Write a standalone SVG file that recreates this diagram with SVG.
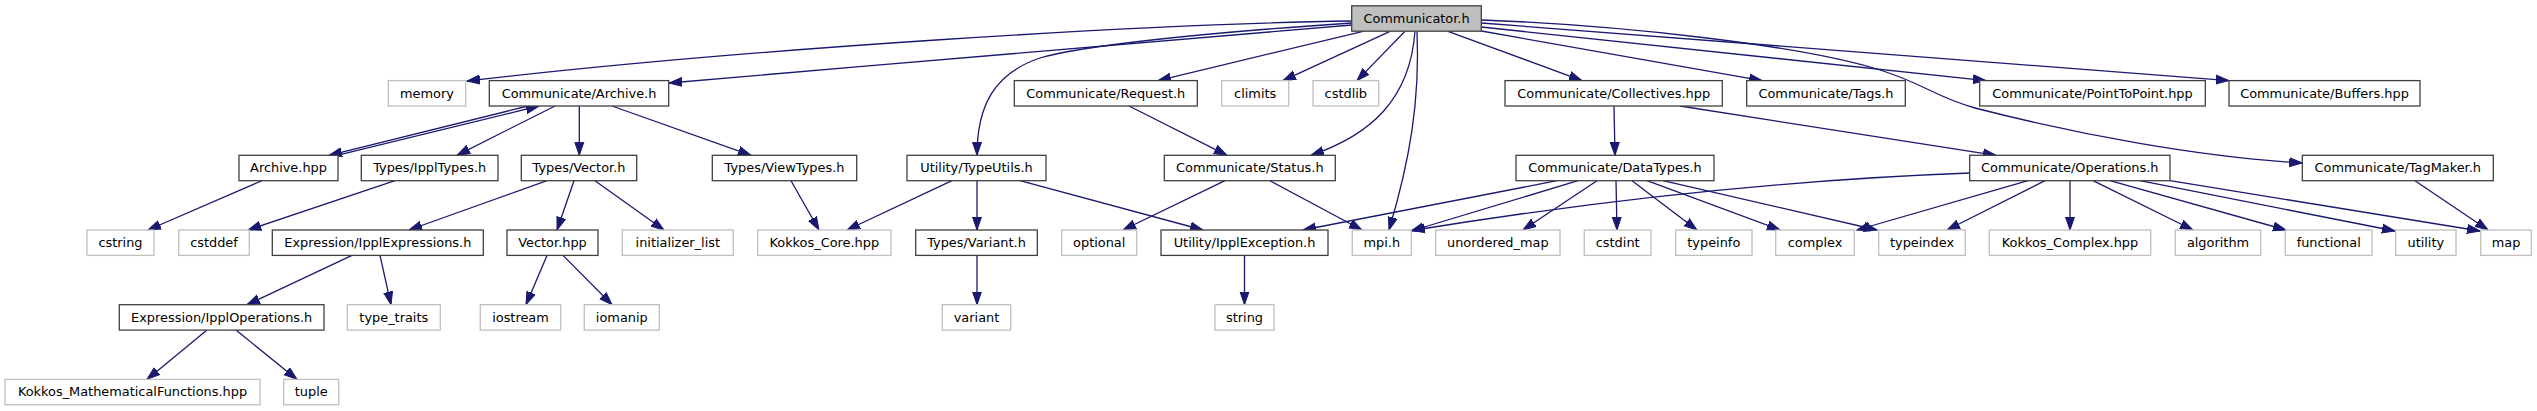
<svg xmlns="http://www.w3.org/2000/svg" width="2537" height="411" viewBox="0 0 2537 411">
<style>
rect{fill:#fff;stroke-width:1.3}
.n rect{stroke:#404040}
.r rect{fill:#bfbfbf;stroke:#404040}
.x rect{stroke:#bfbfbf}
text{font-family:"DejaVu Sans","Liberation Sans",sans-serif;font-size:12.9px;text-anchor:middle;fill:#000}
.e path{fill:none;stroke:#191970;stroke-width:1.3;marker-end:url(#a)}
</style>
<defs>
<marker id="a" markerUnits="userSpaceOnUse" markerWidth="14" markerHeight="11" refX="13" refY="5" orient="auto" viewBox="0 0 14 10">
<path d="M0,0.5 L13,5 L0,9.5 Z" fill="#191970" stroke="#191970" stroke-width="1"/>
</marker>
</defs>
<rect x="0" y="0" width="2537" height="411" style="fill:#fff;stroke:none"/>
<g id="connectors" class="e">
<path d="M1352,21 C1150,24 750,48 467,81"/>
<path d="M1352,25 C1150,42 900,63 669,83"/>
<path d="M1363,31.3 L1158,80.6"/>
<path d="M1390,31.3 L1283,80.6"/>
<path d="M1405,31.3 L1357,80.6"/>
<path d="M1352,23 C1200,33 1080,46 1040,58 C995,73 977,105 977,155.3"/>
<path d="M1415,31.3 C1410,100 1370,135 1311,155.3"/>
<path d="M1417,31.3 C1420,100 1410,160 1389,230"/>
<path d="M1448,31.3 L1582,80.6"/>
<path d="M1481.3,31 L1762,80.6"/>
<path d="M1481.3,27 L1986,80.6"/>
<path d="M1481.3,23 L2229,80.6"/>
<path d="M1481.3,20 C1620,25 1800,45 1880,70 C1925,84 1935,97 1975,108 C2080,135 2200,157 2302.3,163"/>
<path d="M1614,106 L1615,155.3"/>
<path d="M1680,106 L1996,155.3"/>
<path d="M1129,106 L1227,155.3"/>
<path d="M528,106 L329,155.3"/>
<path d="M337,155.3 L539,106"/>
<path d="M555,106 L457,155.3"/>
<path d="M579.3,106 L579.3,155.3"/>
<path d="M612,106 L751,155.3"/>
<path d="M262,180.7 L148,230"/>
<path d="M395,180.7 L248,230"/>
<path d="M547,180.7 L409,230"/>
<path d="M574,180.7 L557,230"/>
<path d="M595,180.7 L664,230"/>
<path d="M791,180.7 L819,230"/>
<path d="M952,180.7 L847,230"/>
<path d="M977,180.7 L977,230"/>
<path d="M1020,180.7 L1203,230"/>
<path d="M1225,180.7 L1123,230"/>
<path d="M1270,180.7 L1362,230"/>
<path d="M1557,180.7 L1303,230"/>
<path d="M1578,180.7 L1411,231"/>
<path d="M1970,173 C1780,180 1600,200 1412,230.5"/>
<path d="M1597,180.7 L1523,230"/>
<path d="M1616,180.7 L1617,230"/>
<path d="M1632,180.7 L1697,230"/>
<path d="M1647,180.7 L1780,230"/>
<path d="M1663,180.7 L1877,230"/>
<path d="M2028,180.7 L1857,230"/>
<path d="M2045,180.7 L1947,230"/>
<path d="M2070,180.7 L2070,230"/>
<path d="M2093,180.7 L2193,230"/>
<path d="M2110,180.7 L2286,230"/>
<path d="M2140,180.7 L2395,231"/>
<path d="M2170,180.7 L2480,231"/>
<path d="M2415,180.7 L2488,230"/>
<path d="M352,255.4 L247,304.7"/>
<path d="M380,255.4 L391,304.7"/>
<path d="M547,255.4 L526,304.7"/>
<path d="M563,255.4 L612,304.7"/>
<path d="M977,255.4 L977,304.7"/>
<path d="M1244.5,255.4 L1244.5,304.7"/>
<path d="M207,330.1 L147,379.4"/>
<path d="M236,330.1 L297,379.4"/>
</g>
<g id="node1" class="r"><rect x="1351.7" y="5.8" width="129.6" height="25.4"/><text x="1416.5" y="22.8">Communicator.h</text></g>
<g id="node2" class="x"><rect x="388.3" y="80.6" width="77.4" height="25.4"/><text x="427" y="97.6">memory</text></g>
<g id="node3" class="n"><rect x="489.3" y="80.6" width="179.4" height="25.4"/><text x="579" y="97.6">Communicate/Archive.h</text></g>
<g id="node4" class="n"><rect x="1014.3" y="80.6" width="183" height="25.4"/><text x="1105.8" y="97.6">Communicate/Request.h</text></g>
<g id="node5" class="x"><rect x="1221.7" y="80.6" width="67" height="25.4"/><text x="1255.2" y="97.6">climits</text></g>
<g id="node6" class="x"><rect x="1313" y="80.6" width="65.7" height="25.4"/><text x="1345.8" y="97.6">cstdlib</text></g>
<g id="node7" class="n"><rect x="1505" y="80.6" width="217.3" height="25.4"/><text x="1613.7" y="97.6">Communicate/Collectives.hpp</text></g>
<g id="node8" class="n"><rect x="1746.7" y="80.6" width="158.6" height="25.4"/><text x="1826" y="97.6">Communicate/Tags.h</text></g>
<g id="node9" class="n"><rect x="1979.7" y="80.6" width="225.6" height="25.4"/><text x="2092.5" y="97.6">Communicate/PointToPoint.hpp</text></g>
<g id="node10" class="n"><rect x="2229" y="80.6" width="191" height="25.4"/><text x="2324.5" y="97.6">Communicate/Buffers.hpp</text></g>
<g id="node11" class="n"><rect x="239" y="155.3" width="99" height="25.4"/><text x="288.5" y="172.3">Archive.hpp</text></g>
<g id="node12" class="n"><rect x="361.3" y="155.3" width="136.7" height="25.4"/><text x="429.7" y="172.3">Types/IpplTypes.h</text></g>
<g id="node13" class="n"><rect x="521.3" y="155.3" width="115.4" height="25.4"/><text x="579" y="172.3">Types/Vector.h</text></g>
<g id="node14" class="n"><rect x="712.3" y="155.3" width="144.4" height="25.4"/><text x="784.5" y="172.3">Types/ViewTypes.h</text></g>
<g id="node15" class="n"><rect x="907" y="155.3" width="139" height="25.4"/><text x="976.5" y="172.3">Utility/TypeUtils.h</text></g>
<g id="node16" class="n"><rect x="1164.3" y="155.3" width="171" height="25.4"/><text x="1249.8" y="172.3">Communicate/Status.h</text></g>
<g id="node17" class="n"><rect x="1516" y="155.3" width="198" height="25.4"/><text x="1615" y="172.3">Communicate/DataTypes.h</text></g>
<g id="node18" class="n"><rect x="1969.7" y="155.3" width="200.3" height="25.4"/><text x="2069.8" y="172.3">Communicate/Operations.h</text></g>
<g id="node19" class="n"><rect x="2302.3" y="155.3" width="191" height="25.4"/><text x="2397.8" y="172.3">Communicate/TagMaker.h</text></g>
<g id="node20" class="x"><rect x="87" y="230" width="67" height="25.4"/><text x="120.5" y="247">cstring</text></g>
<g id="node21" class="x"><rect x="178.7" y="230" width="70.6" height="25.4"/><text x="214" y="247">cstddef</text></g>
<g id="node22" class="n"><rect x="272.3" y="230" width="211" height="25.4"/><text x="377.8" y="247">Expression/IpplExpressions.h</text></g>
<g id="node23" class="n"><rect x="507" y="230" width="91" height="25.4"/><text x="552.5" y="247">Vector.hpp</text></g>
<g id="node24" class="x"><rect x="622.3" y="230" width="111" height="25.4"/><text x="677.8" y="247">initializer_list</text></g>
<g id="node25" class="x"><rect x="757.7" y="230" width="133.3" height="25.4"/><text x="824.3" y="247">Kokkos_Core.hpp</text></g>
<g id="node26" class="n"><rect x="915.7" y="230" width="121.6" height="25.4"/><text x="976.5" y="247">Types/Variant.h</text></g>
<g id="node27" class="x"><rect x="1061.7" y="230" width="75" height="25.4"/><text x="1099.2" y="247">optional</text></g>
<g id="node28" class="n"><rect x="1161" y="230" width="167" height="25.4"/><text x="1244.5" y="247">Utility/IpplException.h</text></g>
<g id="node29" class="x"><rect x="1352.3" y="230" width="59" height="25.4"/><text x="1381.8" y="247">mpi.h</text></g>
<g id="node30" class="x"><rect x="1435.7" y="230" width="124.3" height="25.4"/><text x="1497.8" y="247">unordered_map</text></g>
<g id="node31" class="x"><rect x="1584.3" y="230" width="66.7" height="25.4"/><text x="1617.7" y="247">cstdint</text></g>
<g id="node32" class="x"><rect x="1675.7" y="230" width="76.3" height="25.4"/><text x="1713.8" y="247">typeinfo</text></g>
<g id="node33" class="x"><rect x="1775.7" y="230" width="78.6" height="25.4"/><text x="1815" y="247">complex</text></g>
<g id="node34" class="x"><rect x="1878.7" y="230" width="86.6" height="25.4"/><text x="1922" y="247">typeindex</text></g>
<g id="node35" class="x"><rect x="1989.3" y="230" width="161.4" height="25.4"/><text x="2070" y="247">Kokkos_Complex.hpp</text></g>
<g id="node36" class="x"><rect x="2175.3" y="230" width="85.4" height="25.4"/><text x="2218" y="247">algorithm</text></g>
<g id="node37" class="x"><rect x="2285.3" y="230" width="86.7" height="25.4"/><text x="2328.7" y="247">functional</text></g>
<g id="node38" class="x"><rect x="2395.7" y="230" width="60.3" height="25.4"/><text x="2425.8" y="247">utility</text></g>
<g id="node39" class="x"><rect x="2480.7" y="230" width="50.6" height="25.4"/><text x="2506" y="247">map</text></g>
<g id="node40" class="n"><rect x="119.3" y="304.7" width="204.7" height="25.4"/><text x="221.7" y="321.7">Expression/IpplOperations.h</text></g>
<g id="node41" class="x"><rect x="347.3" y="304.7" width="93" height="25.4"/><text x="393.8" y="321.7">type_traits</text></g>
<g id="node42" class="x"><rect x="480.3" y="304.7" width="80.4" height="25.4"/><text x="520.5" y="321.7">iostream</text></g>
<g id="node43" class="x"><rect x="584.3" y="304.7" width="75" height="25.4"/><text x="621.8" y="321.7">iomanip</text></g>
<g id="node44" class="x"><rect x="942.3" y="304.7" width="68.4" height="25.4"/><text x="976.5" y="321.7">variant</text></g>
<g id="node45" class="x"><rect x="1215" y="304.7" width="59" height="25.4"/><text x="1244.5" y="321.7">string</text></g>
<g id="node46" class="x"><rect x="5" y="379.4" width="255" height="25.4"/><text x="132.5" y="396.4">Kokkos_MathematicalFunctions.hpp</text></g>
<g id="node47" class="x"><rect x="283.7" y="379.4" width="55" height="25.4"/><text x="311.2" y="396.4">tuple</text></g>
</svg>
